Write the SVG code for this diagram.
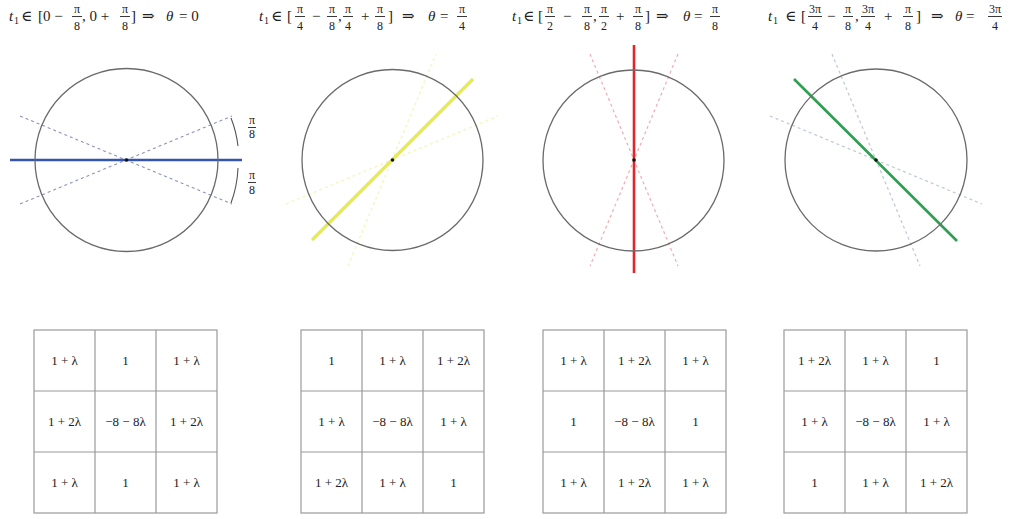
<svg xmlns="http://www.w3.org/2000/svg" width="1011" height="519" viewBox="0 0 1011 519" font-family="'Liberation Serif','DejaVu Serif',serif">
<style>
text{font-family:"Liberation Serif","DejaVu Serif",serif;fill:#222}
.h{font-size:15px}
.f{font-size:12px;text-anchor:middle}
.s{font-size:10px}
.i{font-style:italic}
.bar{stroke:#222;stroke-width:0.9}
.circ{fill:none;stroke:#6a6a6a;stroke-width:1.3}
.dot{fill:#111}
.cell{fill:none;stroke:#9a9a9a;stroke-width:1.2}
.c{font-size:13px;text-anchor:middle}
.dash{stroke-dasharray:3 3;fill:none}
</style>

<g id="header1">
<text class="h i" x="9" y="21">t</text><text class="s" x="14" y="24">1</text>
<text class="h" x="21" y="21">∈</text>
<text class="h" x="38" y="21">[0 −</text>
<text class="f" x="77" y="13">π</text><line class="bar" x1="72" y1="16.5" x2="82" y2="16.5"/><text class="f" x="77" y="30">8</text>
<text class="h" x="82" y="21">, 0 +</text>
<text class="f" x="125" y="13">π</text><line class="bar" x1="120" y1="16.5" x2="130" y2="16.5"/><text class="f" x="125" y="30">8</text>
<text class="h" x="131" y="21">]</text>
<text class="h" x="142" y="21">⇒</text>
<text class="h i" x="166" y="21">θ</text>
<text class="h" x="179" y="21">= 0</text>
</g>

<g id="header2">
<text class="h i" x="259" y="21">t</text><text class="s" x="264" y="24">1</text>
<text class="h" x="271" y="21">∈</text>
<text class="h" x="287" y="21">[</text>
<text class="f" x="300" y="13">π</text><line class="bar" x1="295" y1="16.5" x2="305" y2="16.5"/><text class="f" x="300" y="30">4</text>
<text class="h" x="312" y="21">−</text>
<text class="f" x="332" y="13">π</text><line class="bar" x1="327" y1="16.5" x2="337" y2="16.5"/><text class="f" x="332" y="30">8</text>
<text class="h" x="338" y="21">,</text>
<text class="f" x="348" y="13">π</text><line class="bar" x1="343" y1="16.5" x2="353" y2="16.5"/><text class="f" x="348" y="30">4</text>
<text class="h" x="361" y="21">+</text>
<text class="f" x="380" y="13">π</text><line class="bar" x1="375" y1="16.5" x2="385" y2="16.5"/><text class="f" x="380" y="30">8</text>
<text class="h" x="388" y="21">]</text>
<text class="h" x="402" y="21">⇒</text>
<text class="h i" x="428" y="21">θ</text>
<text class="h" x="440" y="21">=</text>
<text class="f" x="462" y="13">π</text><line class="bar" x1="457" y1="16.5" x2="467" y2="16.5"/><text class="f" x="462" y="30">4</text>
</g>

<g id="header3">
<text class="h i" x="512" y="21">t</text><text class="s" x="517" y="24">1</text>
<text class="h" x="523" y="21">∈</text>
<text class="h" x="538" y="21">[</text>
<text class="f" x="550" y="13">π</text><line class="bar" x1="545" y1="16.5" x2="555" y2="16.5"/><text class="f" x="550" y="30">2</text>
<text class="h" x="563" y="21">−</text>
<text class="f" x="587" y="13">π</text><line class="bar" x1="582" y1="16.5" x2="592" y2="16.5"/><text class="f" x="587" y="30">8</text>
<text class="h" x="593" y="21">,</text>
<text class="f" x="604" y="13">π</text><line class="bar" x1="599" y1="16.5" x2="609" y2="16.5"/><text class="f" x="604" y="30">2</text>
<text class="h" x="616" y="21">+</text>
<text class="f" x="638" y="13">π</text><line class="bar" x1="633" y1="16.5" x2="643" y2="16.5"/><text class="f" x="638" y="30">8</text>
<text class="h" x="645" y="21">]</text>
<text class="h" x="656" y="21">⇒</text>
<text class="h i" x="683" y="21">θ</text>
<text class="h" x="694" y="21">=</text>
<text class="f" x="715" y="13">π</text><line class="bar" x1="710" y1="16.5" x2="720" y2="16.5"/><text class="f" x="715" y="30">8</text>
</g>

<g id="header4">
<text class="h i" x="768" y="21">t</text><text class="s" x="773" y="24">1</text>
<text class="h" x="785" y="21">∈</text>
<text class="h" x="801" y="21">[</text>
<text class="f" x="815" y="13">3π</text><line class="bar" x1="808" y1="16.5" x2="822" y2="16.5"/><text class="f" x="815" y="30">4</text>
<text class="h" x="827" y="21">−</text>
<text class="f" x="848" y="13">π</text><line class="bar" x1="843" y1="16.5" x2="853" y2="16.5"/><text class="f" x="848" y="30">8</text>
<text class="h" x="855" y="21">,</text>
<text class="f" x="868" y="13">3π</text><line class="bar" x1="861" y1="16.5" x2="875" y2="16.5"/><text class="f" x="868" y="30">4</text>
<text class="h" x="884" y="21">+</text>
<text class="f" x="908" y="13">π</text><line class="bar" x1="903" y1="16.5" x2="913" y2="16.5"/><text class="f" x="908" y="30">8</text>
<text class="h" x="916" y="21">]</text>
<text class="h" x="931" y="21">⇒</text>
<text class="h i" x="955" y="21">θ</text>
<text class="h" x="966" y="21">=</text>
<text class="f" x="995" y="13">3π</text><line class="bar" x1="988" y1="16.5" x2="1002" y2="16.5"/><text class="f" x="995" y="30">4</text>
</g>

<g id="connectors">
<line class="dash" x1="20" y1="116" x2="232" y2="204" stroke="#8b93b6" stroke-width="1.1"/>
<line class="dash" x1="20" y1="204" x2="232" y2="116" stroke="#8b93b6" stroke-width="1.1"/>
<line x1="10" y1="160" x2="242" y2="160" stroke="#3454ad" stroke-width="2.6"/>
<path d="M231 118 A 112 112 0 0 1 238 146" fill="none" stroke="#555" stroke-width="1.1"/>
<path d="M238 168 A 112 112 0 0 1 231 203" fill="none" stroke="#555" stroke-width="1.1"/>
<line class="dash" x1="286" y1="204" x2="498" y2="116" stroke="#f6f6c4" stroke-width="1.5"/>
<line class="dash" x1="348" y1="266" x2="436" y2="54" stroke="#f6f6c4" stroke-width="1.5"/>
<line x1="312" y1="240" x2="473" y2="79" stroke="#e6eb55" stroke-width="3.2"/>
<line class="dash" x1="590" y1="54" x2="678" y2="266" stroke="#f2aab2" stroke-width="1.2"/>
<line class="dash" x1="678" y1="54" x2="590" y2="266" stroke="#f2aab2" stroke-width="1.2"/>
<line x1="634" y1="45" x2="634" y2="273" stroke="#e0262b" stroke-width="2.6"/>
<line class="dash" x1="770" y1="116" x2="982" y2="204" stroke="#c2cbd6" stroke-width="1.3"/>
<line class="dash" x1="832" y1="54" x2="920" y2="266" stroke="#c2cbd6" stroke-width="1.3"/>
<line x1="794" y1="79" x2="957" y2="241" stroke="#2f9e50" stroke-width="2.6"/>
</g>

<g id="circle1">
<circle class="circ" cx="126.5" cy="160" r="91.5"/>
<circle class="dot" cx="126.5" cy="160" r="1.8"/>
<text class="f" x="252" y="124">π</text><line class="bar" x1="248" y1="127.5" x2="256" y2="127.5"/><text class="f" x="252" y="138">8</text>
<text class="f" x="252" y="179">π</text><line class="bar" x1="248" y1="182.5" x2="256" y2="182.5"/><text class="f" x="252" y="194">8</text>
</g>
<g id="circle2">
<circle class="circ" cx="392.5" cy="160" r="90.5"/>
<circle class="dot" cx="392.5" cy="160" r="1.8"/>
</g>
<g id="circle3">
<circle class="circ" cx="633.5" cy="160.5" r="90.5"/>
<circle class="dot" cx="634" cy="160" r="1.8"/>
</g>
<g id="circle4">
<circle class="circ" cx="876" cy="160" r="91"/>
<circle class="dot" cx="876" cy="160" r="1.8"/>
</g>

<g id="grid1">
<rect class="cell" x="34" y="330" width="183" height="183"/>
<path class="cell" d="M95 330V513M156 330V513M34 391H217M34 452H217"/>
<text class="c" x="64.5" y="365">1 + λ</text><text class="c" x="125.5" y="365">1</text><text class="c" x="186.5" y="365">1 + λ</text>
<text class="c" x="64.5" y="426">1 + 2λ</text><text class="c" x="125.5" y="426">−8 − 8λ</text><text class="c" x="186.5" y="426">1 + 2λ</text>
<text class="c" x="64.5" y="487">1 + λ</text><text class="c" x="125.5" y="487">1</text><text class="c" x="186.5" y="487">1 + λ</text>
</g>
<g id="grid2">
<rect class="cell" x="301" y="330" width="183" height="183"/>
<path class="cell" d="M362 330V513M423 330V513M301 391H484M301 452H484"/>
<text class="c" x="331.5" y="365">1</text><text class="c" x="392.5" y="365">1 + λ</text><text class="c" x="453.5" y="365">1 + 2λ</text>
<text class="c" x="331.5" y="426">1 + λ</text><text class="c" x="392.5" y="426">−8 − 8λ</text><text class="c" x="453.5" y="426">1 + λ</text>
<text class="c" x="331.5" y="487">1 + 2λ</text><text class="c" x="392.5" y="487">1 + λ</text><text class="c" x="453.5" y="487">1</text>
</g>
<g id="grid3">
<rect class="cell" x="543" y="330" width="183" height="183"/>
<path class="cell" d="M604 330V513M665 330V513M543 391H726M543 452H726"/>
<text class="c" x="573.5" y="365">1 + λ</text><text class="c" x="634.5" y="365">1 + 2λ</text><text class="c" x="695.5" y="365">1 + λ</text>
<text class="c" x="573.5" y="426">1</text><text class="c" x="634.5" y="426">−8 − 8λ</text><text class="c" x="695.5" y="426">1</text>
<text class="c" x="573.5" y="487">1 + λ</text><text class="c" x="634.5" y="487">1 + 2λ</text><text class="c" x="695.5" y="487">1 + λ</text>
</g>
<g id="grid4">
<rect class="cell" x="784" y="330" width="183" height="183"/>
<path class="cell" d="M845 330V513M906 330V513M784 391H967M784 452H967"/>
<text class="c" x="814.5" y="365">1 + 2λ</text><text class="c" x="875.5" y="365">1 + λ</text><text class="c" x="936.5" y="365">1</text>
<text class="c" x="814.5" y="426">1 + λ</text><text class="c" x="875.5" y="426">−8 − 8λ</text><text class="c" x="936.5" y="426">1 + λ</text>
<text class="c" x="814.5" y="487">1</text><text class="c" x="875.5" y="487">1 + λ</text><text class="c" x="936.5" y="487">1 + 2λ</text>
</g>
</svg>
